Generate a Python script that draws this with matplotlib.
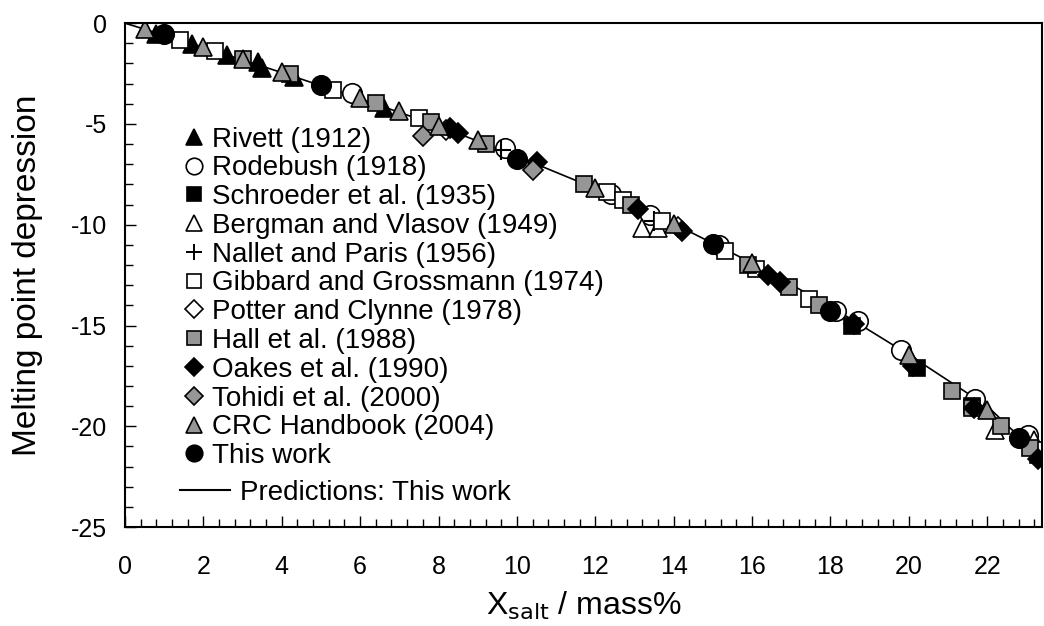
import matplotlib
matplotlib.use("Agg")
import matplotlib.pyplot as plt
from matplotlib.ticker import MultipleLocator
from matplotlib.lines import Line2D

plt.rcParams['font.family'] = ['Liberation Sans', 'DejaVu Sans']
plt.rcParams['axes.unicode_minus'] = False

# data (mass% NaCl, melting point depression)
rivett_x = [0.8, 1.7, 2.6, 3.4, 3.5, 4.3, 6.6]
rivett_y = [-0.55, -1.05, -1.6, -1.95, -2.2, -2.65, -4.2]

rodebush_x = [5.8, 9.7, 12.4, 13.4, 15.15, 18.15, 18.7, 19.8, 21.7, 23.05]
rodebush_y = [-3.45, -6.2, -8.5, -9.5, -11.0, -14.3, -14.8, -16.2, -18.65, -20.45]

schroeder_x = [18.55, 20.2, 21.6, 23.3]
schroeder_y = [-15.0, -17.1, -19.0, -21.4]

bergman_x = [13.2, 13.6, 22.2, 23.2]
bergman_y = [-10.15, -10.15, -20.2, -20.7]

nallet_x = [9.6, 13.5]
nallet_y = [-6.3, -9.8]

gibbard_x = [1.4, 2.3, 5.3, 7.5, 12.3, 12.7, 13.7, 15.3, 16.1, 17.45, 23.3]
gibbard_y = [-0.85, -1.4, -3.3, -4.7, -8.4, -8.75, -9.8, -11.3, -12.2, -13.7, -21.2]

potter_x = [8.2, 14.1]
potter_y = [-5.3, -10.1]

hall_x = [3.0, 4.2, 6.4, 7.8, 9.2, 11.7, 12.9, 15.9, 16.95, 17.7, 21.1, 21.6, 22.35, 23.1]
hall_y = [-1.8, -2.5, -3.95, -4.9, -6.0, -8.0, -9.0, -12.0, -13.1, -14.0, -18.25, -19.1, -20.0, -21.1]

oakes_x = [8.3, 8.5, 10.5, 13.1, 14.2, 16.4, 16.7, 18.6, 20.1, 21.65, 23.3]
oakes_y = [-5.2, -5.45, -6.9, -9.2, -10.3, -12.5, -12.85, -14.9, -17.0, -19.1, -21.6]

tohidi_x = [7.6, 10.4]
tohidi_y = [-5.6, -7.3]

crc_x = [0.5, 2, 3, 4, 6, 7, 8, 9, 12, 14, 16, 20, 22]
crc_y = [-0.3, -1.19, -1.79, -2.41, -3.7, -4.38, -5.08, -5.81, -8.18, -9.94, -11.89, -16.46, -19.2]

thiswork_x = [1.0, 5.0, 10.0, 15.0, 18.0, 22.8]
thiswork_y = [-0.55, -3.05, -6.75, -10.95, -14.3, -20.6]

pred_x = [0, 2, 4, 6, 8, 10, 12, 14, 16, 18, 20, 22, 23.4]
pred_y = [0, -1.2, -2.45, -3.75, -5.1, -6.6, -8.2, -9.95, -11.9, -14.05, -16.45, -19.0, -21.6]

gray = '#969696'
ew = 1.2

# (label, x, y, marker, face, size)
series = [
    ("Rivett (1912)", rivett_x, rivett_y, '^', 'black', 13),
    ("Rodebush (1918)", rodebush_x, rodebush_y, 'o', 'white', 14),
    ("Schroeder et al. (1935)", schroeder_x, schroeder_y, 's', 'black', 12),
    ("Bergman and Vlasov (1949)", bergman_x, bergman_y, '^', 'white', 13),
    ("Nallet and Paris (1956)", nallet_x, nallet_y, '+', 'black', 14),
    ("Gibbard and Grossmann (1974)", gibbard_x, gibbard_y, 's', 'white', 12),
    ("Potter and Clynne (1978)", potter_x, potter_y, 'D', 'white', 10.5),
    ("Hall et al. (1988)", hall_x, hall_y, 's', gray, 12),
    ("Oakes et al. (1990)", oakes_x, oakes_y, 'D', 'black', 10.5),
    ("Tohidi et al. (2000)", tohidi_x, tohidi_y, 'D', gray, 10.5),
    ("CRC Handbook (2004)", crc_x, crc_y, '^', gray, 13),
    ("This work", thiswork_x, thiswork_y, 'o', 'black', 14),
]

fig = plt.figure(figsize=(10.44, 6.26), dpi=100)
ax = fig.add_axes([0.1197, 0.158, 0.8785, 0.805])

ax.plot(pred_x, pred_y, color='black', lw=1.2, zorder=1)

handles = []
for lab, xs, ys, m, fc, ms in series:
    ax.plot(xs, ys, linestyle='none', marker=m, markerfacecolor=fc,
            markeredgecolor='black', markeredgewidth=ew if m != '+' else 1.5,
            markersize=ms, zorder=2)
    handles.append(Line2D([], [], linestyle='none', marker=m, markerfacecolor=fc,
                          markeredgecolor='black',
                          markeredgewidth=ew if m != '+' else 1.4,
                          markersize=ms * 0.85, label=lab))

ax.set_xlim(0, 23.4)
ax.set_ylim(-25, 0)
ax.xaxis.set_major_locator(MultipleLocator(2))
ax.xaxis.set_minor_locator(MultipleLocator(0.4))
ax.yaxis.set_major_locator(MultipleLocator(5))
ax.yaxis.set_minor_locator(MultipleLocator(1))
ax.tick_params(which='both', direction='in', top=False, right=False, width=1)
ax.tick_params(which='major', length=8, labelsize=18)
ax.tick_params(which='minor', length=6)
ax.tick_params(axis='x', pad=20)
ax.tick_params(axis='y', pad=13)
for s in ax.spines.values():
    s.set_linewidth(1.5)

ax.set_xlabel(r"X$_{\mathrm{salt}}$ / mass%", fontsize=23)
ax.set_ylabel("Melting point depression", fontsize=24)
ax.xaxis.set_label_coords(0.5, -0.125)
ax.yaxis.set_label_coords(-0.089, 0.5)

leg1 = ax.legend(handles=handles, loc='center left', bbox_to_anchor=(0.063, 0.455),
                 frameon=False, fontsize=20, handlelength=0.8, handletextpad=0.25,
                 labelspacing=0.1, borderpad=0, borderaxespad=0)
ax.add_artist(leg1)
ax.legend(handles=[Line2D([], [], color='black', lw=1.5, label="Predictions: This work")],
          loc='center left', bbox_to_anchor=(0.06, 0.0675), frameon=False, fontsize=20,
          handlelength=1.8, handletextpad=0.36, borderpad=0, borderaxespad=0)

fig.savefig("out.png", dpi=100)
